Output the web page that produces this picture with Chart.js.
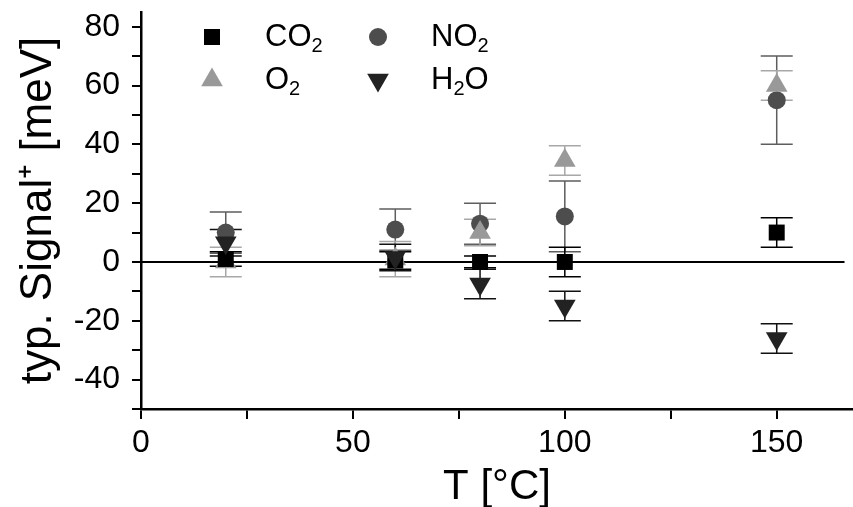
<!DOCTYPE html>
<html>
<head>
<meta charset="UTF-8">
<title>typ. Signal vs T</title>
<style>
  html, body { margin: 0; padding: 0; background: #fff; }
  #wrap { width: 853px; height: 507px; }
</style>
</head>
<body>
<div id="wrap"><canvas id="c" width="853" height="507"></canvas></div>
<script src="https://cdn.jsdelivr.net/npm/chart.js"></script>
<script>
// values
const temps = [20, 60, 80, 100, 150];
const co2 = [1, 0.5, 0, 0, 10];
const co2Err = [2.5, 3, 2, 5, 5];
const no2 = [10, 11, 13, 15.5, 55];
const no2Err = [7, 7, 7, 12, 15];
const o2 = [0, 1, 10, 34.5, 60];
const o2Err = [5, 6, 4.5, 5, 5];
const h2o = [6.5, 1.5, -7.5, -15, -26];
const h2oErr = [4.5, 4.5, 5, 5, 5];
const zeroLineX = [0, 166];
const legendNames = ['CO₂', 'NO₂', 'O₂', 'H₂O'];

const FONT = '"Liberation Sans", Arial, sans-serif';
Chart.defaults.font.family = FONT;
Chart.defaults.color = '#000';

const pts = (ys) => temps.map((t, i) => ({ x: t, y: ys[i] }));

// error bars, drawn under the markers
const errorBars = {
  id: 'errorBars',
  beforeDatasetsDraw(chart) {
    const { ctx, scales: { x, y } } = chart;
    ctx.save();
    chart.data.datasets.forEach(ds => {
      if (!ds.errs) return;
      ctx.strokeStyle = ds.errColor;
      ctx.lineWidth = 1.5;
      ds.data.forEach((p, i) => {
        const px = x.getPixelForValue(p.x);
        const top = y.getPixelForValue(p.y + ds.errs[i]);
        const bot = y.getPixelForValue(p.y - ds.errs[i]);
        ctx.beginPath();
        ctx.moveTo(px, top); ctx.lineTo(px, bot);
        ctx.moveTo(px - 16, top); ctx.lineTo(px + 16, top);
        ctx.moveTo(px - 16, bot); ctx.lineTo(px + 16, bot);
        ctx.stroke();
      });
    });
    ctx.restore();
  }
};

// text with "₂" drawn as a real subscript
function subText(ctx, str, x, y, size) {
  const parts = str.split('₂');
  ctx.font = size + 'px ' + FONT;
  ctx.fillText(parts[0], x, y);
  x += ctx.measureText(parts[0]).width;
  ctx.font = Math.round(size * 0.65) + 'px ' + FONT;
  ctx.fillText('2', x, y + size * 0.3);
  x += ctx.measureText('2').width;
  if (parts[1]) {
    ctx.font = size + 'px ' + FONT;
    ctx.fillText(parts[1], x, y);
  }
}

// legend in two columns inside the plot
const boxLegend = {
  id: 'boxLegend',
  afterDraw(chart) {
    const { ctx, chartArea: a } = chart;
    ctx.save();
    ctx.textBaseline = 'middle';
    const sets = chart.data.datasets.filter(d => d.errs)
      .sort((p, q) => legendNames.indexOf(p.label) - legendNames.indexOf(q.label));
    sets.forEach((ds, i) => {
      const col = i % 2, row = Math.floor(i / 2);
      const mx = a.left + 71 + col * 166;
      const my = a.top + 25 + row * 43;
      ctx.fillStyle = ds.backgroundColor;
      Chart.helpers.drawPoint(ctx, {
        pointStyle: ds.pointStyle, rotation: ds.rotation || 0,
        radius: ds.pointRadius, borderWidth: 0
      }, mx, my);
      ctx.fillStyle = '#000';
      subText(ctx, ds.label, mx + 53, my, 31);
    });
    ctx.restore();
  }
};

new Chart(document.getElementById('c'), {
  type: 'scatter',
  data: {
    datasets: [
      { label: legendNames[1], data: pts(no2), errs: no2Err, errColor: '#5e5e5e',
        pointStyle: 'circle', pointRadius: 9, backgroundColor: '#4d4d4d', borderWidth: 0, order: 4 },
      { label: legendNames[0], data: pts(co2), errs: co2Err, errColor: '#000',
        pointStyle: 'rect', pointRadius: 11.3, backgroundColor: '#000', borderWidth: 0, order: 2 },
      { label: legendNames[2], data: pts(o2), errs: o2Err, errColor: '#a8a8a8',
        pointStyle: 'triangle', pointRadius: 12.5, backgroundColor: '#999', borderWidth: 0, order: 3 },
      { label: legendNames[3], data: pts(h2o), errs: h2oErr, errColor: '#111',
        pointStyle: 'triangle', rotation: 180, pointRadius: 12.5, backgroundColor: '#222', borderWidth: 0, order: 1 },
      { label: 'zero', type: 'line', data: zeroLineX.map(v => ({ x: v, y: 0 })),
        borderColor: '#000', borderWidth: 2, pointRadius: 0, showLine: true, order: 5 }
    ]
  },
  options: {
    responsive: false,
    animation: false,
    layout: { autoPadding: false, padding: { top: 12, right: 0, left: 0, bottom: 0 } },
    plugins: { legend: { display: false }, tooltip: { enabled: false } },
    scales: {
      x: {
        type: 'linear', min: 0, max: 168,
        afterBuildTicks: s => { s.ticks = s.ticks.filter(t => Math.round(t.value) % 25 === 0); },
        afterFit: s => { s.height = 98; s.paddingLeft = 0; s.paddingRight = 0; },
        ticks: { stepSize: 25, includeBounds: false, autoSkip: false, maxRotation: 0, padding: 5,
                 font: { size: 32 }, color: '#000',
                 callback: v => (Math.round(v) % 50 === 0 ? v : '') },
        grid: { drawOnChartArea: false, drawTicks: true, tickLength: 10, tickColor: '#000', lineWidth: 2 },
        border: { color: '#000', width: 2.5 },
        title: { display: true, text: 'T [°C]', font: { size: 42 }, color: '#000', padding: { top: 0, bottom: -6 } }
      },
      y: {
        type: 'linear', min: -50, max: 85,
        afterBuildTicks: s => { s.ticks = s.ticks.filter(t => Math.round(t.value) % 10 === 0); },
        afterFit: s => { s.width = 141; s.paddingTop = 0; s.paddingBottom = 0; },
        ticks: { stepSize: 10, includeBounds: false, autoSkip: false, padding: 12,
                 font: { size: 32 }, color: '#000',
                 callback: v => (Math.round(v) % 20 === 0 ? v : '') },
        grid: { drawOnChartArea: false, drawTicks: true, tickLength: 9, tickColor: '#000', lineWidth: 2 },
        border: { color: '#000', width: 2.5 },
        title: { display: true, text: 'typ. Signal⁺ [meV]', font: { size: 44 }, color: '#000', padding: { top: 12, bottom: 0 } }
      }
    }
  },
  plugins: [errorBars, boxLegend]
});
</script>
</body>
</html>
